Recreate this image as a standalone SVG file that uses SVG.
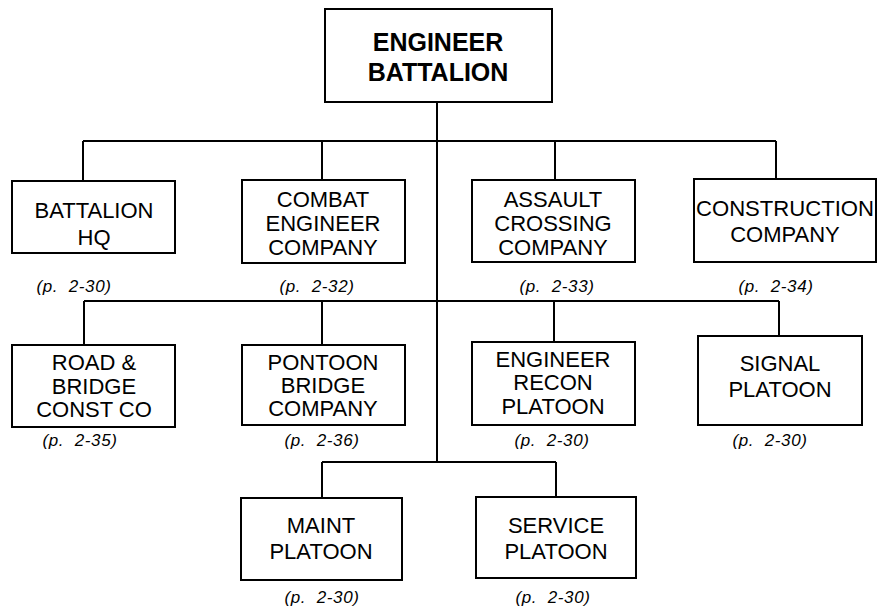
<svg xmlns="http://www.w3.org/2000/svg" width="878" height="607" viewBox="0 0 878 607">
<style>
.box{fill:#fff;stroke:#000;stroke-width:2}
.t{font-family:"Liberation Sans",Arial,sans-serif;font-size:22px;fill:#000;text-anchor:middle}
.tb{font-family:"Liberation Sans",Arial,sans-serif;font-size:25px;font-weight:bold;fill:#000;text-anchor:middle}
.p{font-family:"Liberation Sans",Arial,sans-serif;font-size:17px;font-style:italic;fill:#000;text-anchor:middle;letter-spacing:0.6px;white-space:pre}
.c{fill:none;stroke:#000;stroke-width:2}
</style>
<rect width="878" height="607" fill="#fff"/>
<g id="connectors" class="c">
<path d="M437 102V462"/>
<path d="M83 141H776M83 141V181M322 141V180M555 141V180M776 141V179"/>
<path d="M84 301H779M84 301V345M322 301V345M554 301V342M779 301V336"/>
<path d="M322 462H556M322 462V498M556 462V497"/>
</g>
<g id="engineer-battalion">
<rect class="box" x="325" y="9" width="227" height="93"/>
<text class="tb" x="438" y="51">ENGINEER</text>
<text class="tb" x="438" y="81">BATTALION</text>
</g>
<g id="battalion-hq">
<rect class="box" x="12" y="181" width="163" height="72"/>
<text class="t" x="94" y="218">BATTALION</text>
<text class="t" x="94" y="245">HQ</text>
<text class="p" x="74" y="292">(p.  2-30)</text>
</g>
<g id="combat-engineer-company">
<rect class="box" x="242" y="180" width="163" height="83"/>
<text class="t" x="323" y="207">COMBAT</text>
<text class="t" x="323" y="231">ENGINEER</text>
<text class="t" x="323" y="255">COMPANY</text>
<text class="p" x="317" y="292">(p.  2-32)</text>
</g>
<g id="assault-crossing-company">
<rect class="box" x="472" y="180" width="163" height="82"/>
<text class="t" x="553" y="207">ASSAULT</text>
<text class="t" x="553" y="231">CROSSING</text>
<text class="t" x="553" y="255">COMPANY</text>
<text class="p" x="557" y="292">(p.  2-33)</text>
</g>
<g id="construction-company">
<rect class="box" x="694" y="179" width="182" height="83"/>
<text class="t" x="785" y="216" textLength="178" lengthAdjust="spacingAndGlyphs">CONSTRUCTION</text>
<text class="t" x="785" y="242">COMPANY</text>
<text class="p" x="776" y="292">(p.  2-34)</text>
</g>
<g id="road-bridge-const-co">
<rect class="box" x="12" y="345" width="163" height="82"/>
<text class="t" x="94" y="370">ROAD &amp;</text>
<text class="t" x="94" y="394">BRIDGE</text>
<text class="t" x="94" y="417">CONST CO</text>
<text class="p" x="80" y="446">(p.  2-35)</text>
</g>
<g id="pontoon-bridge-company">
<rect class="box" x="242" y="345" width="163" height="80"/>
<text class="t" x="323" y="370">PONTOON</text>
<text class="t" x="323" y="393">BRIDGE</text>
<text class="t" x="323" y="416">COMPANY</text>
<text class="p" x="322" y="446">(p.  2-36)</text>
</g>
<g id="engineer-recon-platoon">
<rect class="box" x="472" y="342" width="163" height="83"/>
<text class="t" x="553" y="367">ENGINEER</text>
<text class="t" x="553" y="390">RECON</text>
<text class="t" x="553" y="414">PLATOON</text>
<text class="p" x="552" y="446">(p.  2-30)</text>
</g>
<g id="signal-platoon">
<rect class="box" x="698" y="336" width="164" height="89"/>
<text class="t" x="780" y="371">SIGNAL</text>
<text class="t" x="780" y="397">PLATOON</text>
<text class="p" x="770" y="446">(p.  2-30)</text>
</g>
<g id="maint-platoon">
<rect class="box" x="241" y="498" width="161" height="82"/>
<text class="t" x="321" y="533">MAINT</text>
<text class="t" x="321" y="559">PLATOON</text>
<text class="p" x="322" y="603">(p.  2-30)</text>
</g>
<g id="service-platoon">
<rect class="box" x="476" y="497" width="160" height="81"/>
<text class="t" x="556" y="533">SERVICE</text>
<text class="t" x="556" y="559">PLATOON</text>
<text class="p" x="553" y="603">(p.  2-30)</text>
</g>
</svg>
